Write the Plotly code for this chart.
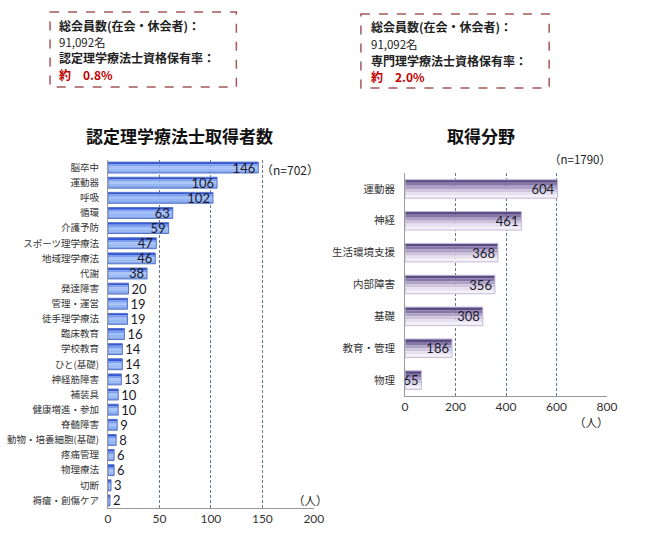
import plotly.graph_objects as go

W, H = 669, 558

# 認定理学療法士 取得者数
nintei_fields = ['脳卒中', '運動器', '呼吸', '循環', '介護予防', 'スポーツ理学療法', '地域理学療法',
                 '代謝', '発達障害', '管理・運営', '徒手理学療法', '臨床教育', '学校教育', 'ひと(基礎)',
                 '神経筋障害', '補装具', '健康増進・参加', '脊髄障害', '動物・培養細胞(基礎)',
                 '疼痛管理', '物理療法', '切断', '褥瘡・創傷ケア']
nintei_counts = [146, 106, 102, 63, 59, 47, 46, 38, 20, 19, 19, 16, 14, 14, 13, 10, 10, 9, 8, 6, 6, 3, 2]
nintei_ticks = [0, 50, 100, 150, 200]

# 専門理学療法士 取得分野
senmon_fields = ['運動器', '神経', '生活環境支援', '内部障害', '基礎', '教育・管理', '物理']
senmon_counts = [604, 461, 368, 356, 308, 186, 65]
senmon_ticks = [0, 200, 400, 600, 800]

FONT = 'Noto Sans CJK JP'
NUM_FONT = 'Lato'
GRID = '#5f7898'


def px(x):
    return x / W


def py(y):
    return 1 - y / H


def gradient_bars(fig, cats, vals, colors, width, outline, xa, ya, textpos, tsize, **kw):
    n = len(colors)
    for k, c in enumerate(colors):
        fig.add_trace(go.Bar(
            y=cats, x=vals, orientation='h', width=width / n,
            offset=-width / 2 + k * width / n,
            marker=dict(color=c, line=dict(width=0)),
            xaxis=xa, yaxis=ya, hoverinfo='skip', showlegend=False))
    fig.add_trace(go.Bar(
        y=cats, x=vals, orientation='h', width=width, offset=-width / 2,
        marker=dict(color='rgba(0,0,0,0)', line=dict(color=outline, width=1)),
        text=[str(v) for v in vals], textposition=textpos, constraintext='none',
        textangle=0, textfont=dict(family=NUM_FONT, size=tsize, color='#1a1a2a'),
        cliponaxis=False, xaxis=xa, yaxis=ya, showlegend=False, **kw))


fig = go.Figure()

gradient_bars(fig, nintei_fields, nintei_counts,
              ['#3456d4', '#7b9ef0', '#a2c0f7', '#96b6f3', '#86a7ec'],
              0.72, '#5573c8', 'x', 'y',
              ['inside' if v >= 38 else 'outside' for v in nintei_counts], 13,
              insidetextanchor='end')

gradient_bars(fig, senmon_fields, senmon_counts,
              ['#5b4a84', '#8676a8', '#ada1c6', '#cfc6de', '#e6e1ee', '#f3f0f7'],
              0.58, '#c4bad8', 'x2', 'y2', 'inside', 13, insidetextanchor='end')

axis_common = dict(showline=True, linecolor='#9a9a9a', linewidth=1, ticks='',
                   tickfont=dict(family=NUM_FONT, size=12, color='#333333'),
                   showgrid=True, gridcolor=GRID, griddash='3px,2px', gridwidth=1,
                   zeroline=False, fixedrange=True)

fig.update_layout(
    width=W, height=H, margin=dict(l=0, r=0, t=0, b=0),
    paper_bgcolor='white', plot_bgcolor='white', barmode='overlay',
    uniformtext=dict(minsize=12.5, mode='show'),
    font=dict(family=FONT, color='#333333'),
    xaxis=dict(domain=[px(107), px(317)], range=[0, 200], tickvals=nintei_ticks,
               anchor='y', **axis_common),
    yaxis=dict(domain=[py(508), py(160)], type='category', categoryorder='array',
               categoryarray=nintei_fields, range=[len(nintei_fields) - 0.5, -0.5],
               showline=True, linecolor='#9a9a9a', ticks='', showgrid=False,
               tickfont=dict(family=FONT, size=9.5, color='#333333'),
               ticklabelstandoff=6, anchor='x', fixedrange=True),
    xaxis2=dict(domain=[px(410), px(616)], range=[0, 800], tickvals=senmon_ticks,
                anchor='y2', **axis_common),
    yaxis2=dict(domain=[py(396), py(173)], type='category', categoryorder='array',
                categoryarray=senmon_fields, range=[len(senmon_fields) - 0.5, -0.5],
                showline=True, linecolor='#9a9a9a', ticks='', showgrid=False,
                tickfont=dict(family=FONT, size=10.5, color='#333333'),
                ticklabelstandoff=7, anchor='x2', fixedrange=True),
)


def note(x, y, text, size=12, bold=False, color='#222222', anchor='left', family=FONT):
    if bold:
        text = '<b>' + text + '</b>'
    fig.add_annotation(x=px(x), y=py(y), xref='paper', yref='paper', text=text,
                       showarrow=False, xanchor=anchor, yanchor='middle',
                       font=dict(family=family, size=size, color=color))


# titles and labels
note(180, 135, '認定理学療法士取得者数', size=17, bold=True, color='#111111', anchor='center')
note(487, 135, '取得分野', size=17, bold=True, color='#111111', anchor='center')
note(261, 169, '（n=702）', size=12)
note(555, 159, '（n=1790）', size=11.5)
note(294, 500, '（人）', size=11.5)
note(580, 422, '（人）', size=11.5)

# info boxes
for x0, y0, x1, y1 in [(48, 12, 238, 87), (365, 14, 557, 88)]:
    fig.add_shape(type='rect', xref='paper', yref='paper',
                  x0=px(x0), y0=py(y0), x1=px(x1), y1=py(y1),
                  line=dict(color='#a3585a', width=1.5, dash='dash'))

for x, y0, label, rate in [(55, 25, '認定理学療法士資格保有率：', '約　0.8%'),
                           (373, 27, '専門理学療法士資格保有率：', '約　2.0%')]:
    note(x, y0, '総会員数(在会・休会者)：', size=12, bold=True)
    note(x, y0 + 16.5, '91,092名', size=11.5)
    note(x, y0 + 33, label, size=12, bold=True)
    note(x, y0 + 49.5, rate, size=12, bold=True, color='#c00000')

fig.write_html('out.html', config={'displayModeBar': False},
               post_script="document.body.style.margin='0';")
